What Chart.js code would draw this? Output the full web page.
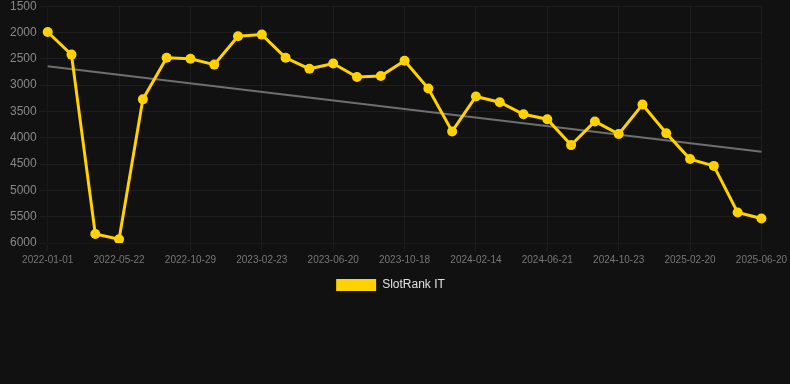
<!DOCTYPE html>
<html>
<head>
<meta charset="utf-8">
<script src="https://cdn.jsdelivr.net/npm/chart.js@4.4.1/dist/chart.umd.min.js"></script>
<style>
  html, body { margin: 0; padding: 0; background: #111111; overflow: hidden; }
  #wrap { width: 790px; height: 305px; position: relative; margin-top: -4px; }
</style>
</head>
<body>
<div id="wrap"><canvas id="rankChart"></canvas></div>
<script>
// dates of the samples (only every 3rd is shown on the axis)
const dates = [
  '2022-01-01', '2022-02-17', '2022-04-05', '2022-05-22', '2022-07-14', '2022-09-05',
  '2022-10-29', '2022-12-10', '2023-01-16', '2023-02-23', '2023-04-01', '2023-05-11',
  '2023-06-20', '2023-07-30', '2023-09-08', '2023-10-18', '2023-11-26', '2024-01-05',
  '2024-02-14', '2024-03-26', '2024-05-06', '2024-06-21', '2024-08-01', '2024-09-11',
  '2024-10-23', '2024-12-01', '2025-01-10', '2025-02-20', '2025-04-01', '2025-05-11',
  '2025-06-20'
];

// SlotRank IT position
const rankIT = [
  1990, 2420, 5830, 5930, 3270, 2480, 2500, 2610, 2070, 2040, 2480, 2690,
  2590, 2845, 2825, 2535, 3065, 3880, 3215, 3325, 3555, 3648, 4140, 3690,
  3930, 3370, 3915, 4405, 4535, 5420, 5535
];

// trend line end points
const trendStart = 2640;
const trendEnd = 4265;

const yTicks = { min: 1500, max: 6000, step: 500 };

const trendData = dates.map((d, i) => i === 0 ? trendStart : (i === dates.length - 1 ? trendEnd : null));

// nudge the legend a little to the left, like the original
const legendShift = {
  id: 'legendShift',
  afterLayout(chart) {
    if (chart.legend) {
      chart.legend.left -= 8;
      chart.legend.right -= 8;
    }
  }
};

const ctx = document.getElementById('rankChart').getContext('2d');
const rankChart = new Chart(ctx, {
  type: 'line',
  data: {
    labels: dates,
    datasets: [{
      label: 'SlotRank IT',
      data: rankIT,
      borderColor: '#ffd200',
      backgroundColor: '#ffd200',
      borderWidth: 3,
      pointRadius: 5,
      pointHoverRadius: 6,
      pointBackgroundColor: '#ffd200',
      pointBorderWidth: 0,
      tension: 0
    }, {
      label: 'trend',
      data: trendData,
      borderColor: '#6f6f6f',
      borderWidth: 2,
      pointRadius: 0,
      spanGaps: true,
      tension: 0
    }]
  },
  options: {
    responsive: true,
    maintainAspectRatio: false,
    animation: false,
    layout: { padding: { left: 7 } },
    plugins: {
      legend: {
        position: 'bottom',
        labels: {
          color: '#e0e0e0',
          font: { size: 12 },
          boxWidth: 40,
          boxHeight: 12,
          generateLabels: chart => Chart.defaults.plugins.legend.labels.generateLabels(chart)
            .filter(item => item.text !== 'trend')
            .map(item => Object.assign(item, { lineWidth: 0 }))
        }
      },
      tooltip: { enabled: false }
    },
    scales: {
      x: {
        grid: { color: 'rgba(255,255,255,0.05)' },
        ticks: {
          color: '#777777',
          font: { size: 10 },
          autoSkip: false,
          maxRotation: 0,
          callback: function(value, index) {
            return index % 3 === 0 ? this.getLabelForValue(value) : null;
          }
        }
      },
      y: {
        reverse: true,
        min: yTicks.min,
        max: yTicks.max,
        grid: { color: 'rgba(255,255,255,0.05)' },
        ticks: {
          color: '#888888',
          font: { size: 12 },
          stepSize: yTicks.step,
          callback: value => String(value)
        }
      }
    }
  },
  plugins: [legendShift]
});
</script>
</body>
</html>
